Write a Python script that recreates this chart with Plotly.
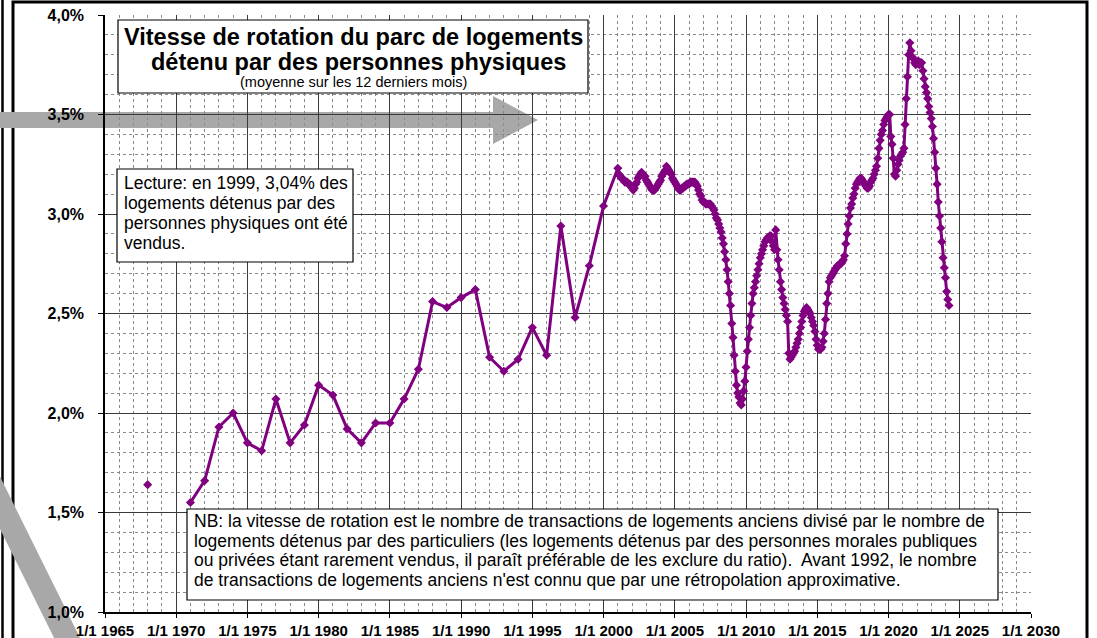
import pandas as pd
import plotly.graph_objects as go

# ---------------- DATA ----------------
# Annual values (plotted at the end of each year); None = no data
annual_years = [1967, 1968, 1969, 1970, 1971, 1972, 1973, 1974, 1975, 1976, 1977, 1978,
                1979, 1980, 1981, 1982, 1983, 1984, 1985, 1986, 1987, 1988, 1989, 1990,
                1991, 1992, 1993, 1994, 1995, 1996, 1997, 1998, 1999]
annual_values = [1.64, None, None, 1.55, 1.66, 1.93, 2.00, 1.85, 1.81, 2.07, 1.85, 1.94,
                 2.14, 2.09, 1.92, 1.85, 1.95, 1.95, 2.07, 2.22, 2.56, 2.53, 2.58, 2.62,
                 2.28, 2.21, 2.27, 2.43, 2.29, 2.94, 2.48, 2.74, 3.04]

# Monthly values (12-month rolling average), starting December 2000
monthly_start = "2000-12-31"
v2000 = [3.23]
v2001 = [3.20, 3.19, 3.18, 3.18, 3.17, 3.16, 3.16, 3.16, 3.15, 3.15, 3.14, 3.13]
v2002 = [3.12, 3.13, 3.15, 3.16, 3.18, 3.19, 3.20, 3.21, 3.20, 3.19, 3.19, 3.17]
v2003 = [3.16, 3.15, 3.14, 3.13, 3.12, 3.12, 3.12, 3.13, 3.14, 3.15, 3.16, 3.17]
v2004 = [3.19, 3.20, 3.21, 3.22, 3.24, 3.23, 3.22, 3.21, 3.20, 3.18, 3.17, 3.16]
v2005 = [3.15, 3.14, 3.13, 3.12, 3.12, 3.13, 3.13, 3.14, 3.14, 3.15, 3.15, 3.15]
v2006 = [3.16, 3.16, 3.16, 3.16, 3.16, 3.15, 3.14, 3.12, 3.10, 3.09, 3.07, 3.06]
v2007 = [3.06, 3.05, 3.05, 3.05, 3.05, 3.05, 3.04, 3.03, 3.02, 3.00, 2.98, 2.97]
v2008 = [2.95, 2.93, 2.91, 2.88, 2.85, 2.81, 2.77, 2.72, 2.66, 2.60, 2.54, 2.45]
v2009 = [2.38, 2.29, 2.21, 2.14, 2.10, 2.08, 2.05, 2.04, 2.07, 2.11, 2.16, 2.23]
v2010 = [2.31, 2.37, 2.43, 2.49, 2.55, 2.60, 2.63, 2.66, 2.69, 2.72, 2.75, 2.78]
v2011 = [2.80, 2.82, 2.84, 2.86, 2.87, 2.88, 2.88, 2.89, 2.89, 2.86, 2.84, 2.82]
v2012 = [2.92, 2.82, 2.77, 2.72, 2.66, 2.62, 2.58, 2.55, 2.52, 2.49, 2.46, 2.30]
v2013 = [2.27, 2.28, 2.29, 2.30, 2.31, 2.33, 2.35, 2.37, 2.40, 2.43, 2.46, 2.49]
v2014 = [2.51, 2.52, 2.53, 2.52, 2.51, 2.50, 2.48, 2.46, 2.44, 2.41, 2.37, 2.34]
v2015 = [2.32, 2.32, 2.32, 2.33, 2.36, 2.40, 2.47, 2.55, 2.60, 2.66, 2.68, 2.69]
v2016 = [2.70, 2.71, 2.72, 2.73, 2.74, 2.74, 2.75, 2.75, 2.76, 2.77, 2.79, 2.85]
v2017 = [2.90, 2.95, 2.99, 3.03, 3.05, 3.08, 3.10, 3.13, 3.15, 3.16, 3.17, 3.18]
v2018 = [3.18, 3.17, 3.16, 3.15, 3.14, 3.13, 3.13, 3.14, 3.16, 3.17, 3.18, 3.20]
v2019 = [3.22, 3.24, 3.28, 3.33, 3.37, 3.40, 3.42, 3.45, 3.47, 3.48, 3.49, 3.50]
v2020 = [3.50, 3.39, 3.35, 3.28, 3.20, 3.19, 3.22, 3.25, 3.27, 3.29, 3.30, 3.31]
v2021 = [3.33, 3.45, 3.58, 3.69, 3.80, 3.86, 3.82, 3.79, 3.78, 3.76, 3.75, 3.76]
v2022 = [3.77, 3.75, 3.76, 3.76, 3.72, 3.68, 3.64, 3.61, 3.58, 3.54, 3.51, 3.48]
v2023 = [3.44, 3.38, 3.31, 3.23, 3.15, 3.06, 2.99, 2.93, 2.86, 2.78, 2.73, 2.68]
v2024 = [2.61, 2.57, 2.54]

monthly_values = (v2000 + v2001 + v2002 + v2003 + v2004 + v2005 + v2006 + v2007 + v2008
                  + v2009 + v2010 + v2011 + v2012 + v2013 + v2014 + v2015 + v2016 + v2017
                  + v2018 + v2019 + v2020 + v2021 + v2022 + v2023 + v2024)

title_lines = ["Vitesse de rotation du parc de logements",
               "détenu par des personnes physiques",
               "(moyenne sur les 12 derniers mois)"]
lecture_lines = ["Lecture: en 1999, 3,04% des",
                 "logements détenus par des",
                 "personnes physiques ont été",
                 "vendus."]
nb_lines = ["NB: la vitesse de rotation est le nombre de transactions de logements anciens divisé par le nombre de",
            "logements détenus par des particuliers (les logements détenus par des personnes morales publiques",
            "ou privées étant rarement vendus, il paraît préférable de les exclure du ratio).  Avant 1992, le nombre",
            "de transactions de logements anciens n'est connu que par une rétropolation approximative."]

# ---------------- BUILD ----------------
annual_dates = [pd.Timestamp(year=y, month=12, day=31) for y in annual_years]
monthly_dates = list(pd.date_range(start=monthly_start, periods=len(monthly_values), freq="ME"))
x_all = annual_dates + monthly_dates
y_all = annual_values + monthly_values

W, H = 1097, 638
ML, MR, MT, MB = 105, 66, 15, 26
PW, PH = W - ML - MR, H - MT - MB


def px(x):
    return (x - ML) / PW


def py(y):
    return (H - MB - y) / PH


FONT = "Liberation Sans, Arial, sans-serif"
PURPLE = "#800080"
ARROW = "#a8a8a8"

fig = go.Figure()
fig.add_trace(go.Scatter(
    x=x_all, y=y_all, mode="lines+markers",
    line=dict(color=PURPLE, width=3),
    marker=dict(symbol="diamond", size=7, color=PURPLE),
    connectgaps=False, showlegend=False, hoverinfo="x+y",
))

shapes = []
# frame lines (drawn underneath everything)
shapes.append(dict(type="rect", xref="paper", yref="paper",
                   x0=px(13), x1=px(1087), y0=py(650), y1=py(2),
                   line=dict(color="black", width=3), fillcolor="rgba(0,0,0,0)", layer="below"))
shapes.append(dict(type="line", xref="paper", yref="paper",
                   x0=px(2.5), x1=px(2.5), y0=py(-5), y1=py(650),
                   line=dict(color="black", width=2.5), layer="below"))


def path(points):
    s = "M " + " L ".join(f"{px(a):.5f},{py(b):.5f}" for a, b in points) + " Z"
    return s


# horizontal gray arrow (between grid and traces, under tick labels)
shapes.append(dict(type="path", xref="paper", yref="paper",
                   path=path([(-5, 112), (493, 112), (493, 96), (538, 120), (493, 144), (493, 128), (-5, 128)]),
                   fillcolor=ARROW, line=dict(width=0), layer="between"))
# diagonal gray band
shapes.append(dict(type="path", xref="paper", yref="paper",
                   path=path([(-64, 400), (-38, 400), (91, 660), (65, 660)]),
                   fillcolor=ARROW, line=dict(width=0), layer="between"))

# boxes
for (x0, y0, x1, y1) in [(118, 20, 588, 93), (117, 169, 353, 262), (187, 509, 998, 600)]:
    shapes.append(dict(type="rect", xref="paper", yref="paper",
                       x0=px(x0), x1=px(x1), y0=py(y1), y1=py(y0),
                       line=dict(color="black", width=1.2), fillcolor="white", layer="above"))

annotations = []
annotations.append(dict(text="<b>" + title_lines[0] + "</b>", x=px(353), y=py(37),
                        font=dict(size=23.5, family=FONT, color="black")))
annotations.append(dict(text="<b>" + title_lines[1] + "</b>", x=px(358), y=py(62),
                        font=dict(size=23.5, family=FONT, color="black")))
annotations.append(dict(text=title_lines[2], x=px(353), y=py(82),
                        font=dict(size=14.5, family=FONT, color="black")))
for i, t in enumerate(lecture_lines):
    annotations.append(dict(text=t, x=px(122), y=py(183 + 20 * i), xanchor="left",
                            font=dict(size=17.5, family=FONT, color="black")))
for i, t in enumerate(nb_lines):
    annotations.append(dict(text=t, x=px(192), y=py(521 + 19.5 * i), xanchor="left",
                            font=dict(size=17.5, family=FONT, color="black")))
for a in annotations:
    a.update(xref="paper", yref="paper", showarrow=False, yanchor=a.get("yanchor", "middle"),
             xanchor=a.get("xanchor", "center"))

fig.update_layout(
    width=W, height=H,
    margin=dict(l=ML, r=MR, t=MT, b=MB, pad=0, autoexpand=False),
    paper_bgcolor="white", plot_bgcolor="white",
    separators=", ",
    shapes=shapes, annotations=annotations,
    showlegend=False,
)

fig.update_xaxes(
    type="date", range=["1965-01-01", "2030-01-01"], automargin=False,
    tick0="1965-01-01", dtick="M60", tickformat="1/1 %Y",
    ticks="outside", ticklen=4, tickcolor="black", tickwidth=1.2,
    tickfont=dict(family=FONT, size=15, color="black", weight="bold"),
    showline=True, linecolor="black", linewidth=1.5,
    showgrid=True, gridcolor="#3a3a3a", gridwidth=1.2,
    minor=dict(dtick="M12", tick0="1965-01-01", showgrid=True, gridcolor="#8a8a8a",
               griddash="dot", gridwidth=1),
    zeroline=False, ticklabelstandoff=0,
)
fig.update_yaxes(
    range=[1.0, 4.0], dtick=0.5, tick0=1.0, tickformat=".1f", ticksuffix="%", automargin=False,
    ticks="outside", ticklen=5, tickcolor="black", tickwidth=1.2,
    tickfont=dict(family=FONT, size=16, color="black", weight="bold"),
    showline=True, linecolor="black", linewidth=1.5,
    showgrid=True, gridcolor="#3a3a3a", gridwidth=1.2,
    minor=dict(dtick=0.1, tick0=1.0, showgrid=True, gridcolor="#8a8a8a",
               griddash="dot", gridwidth=1),
    zeroline=False, ticklabelstandoff=11,
)

fig.write_html("out.html", config={"displayModeBar": False},
               post_script="document.body.style.margin='0';document.body.style.overflow='hidden';")
